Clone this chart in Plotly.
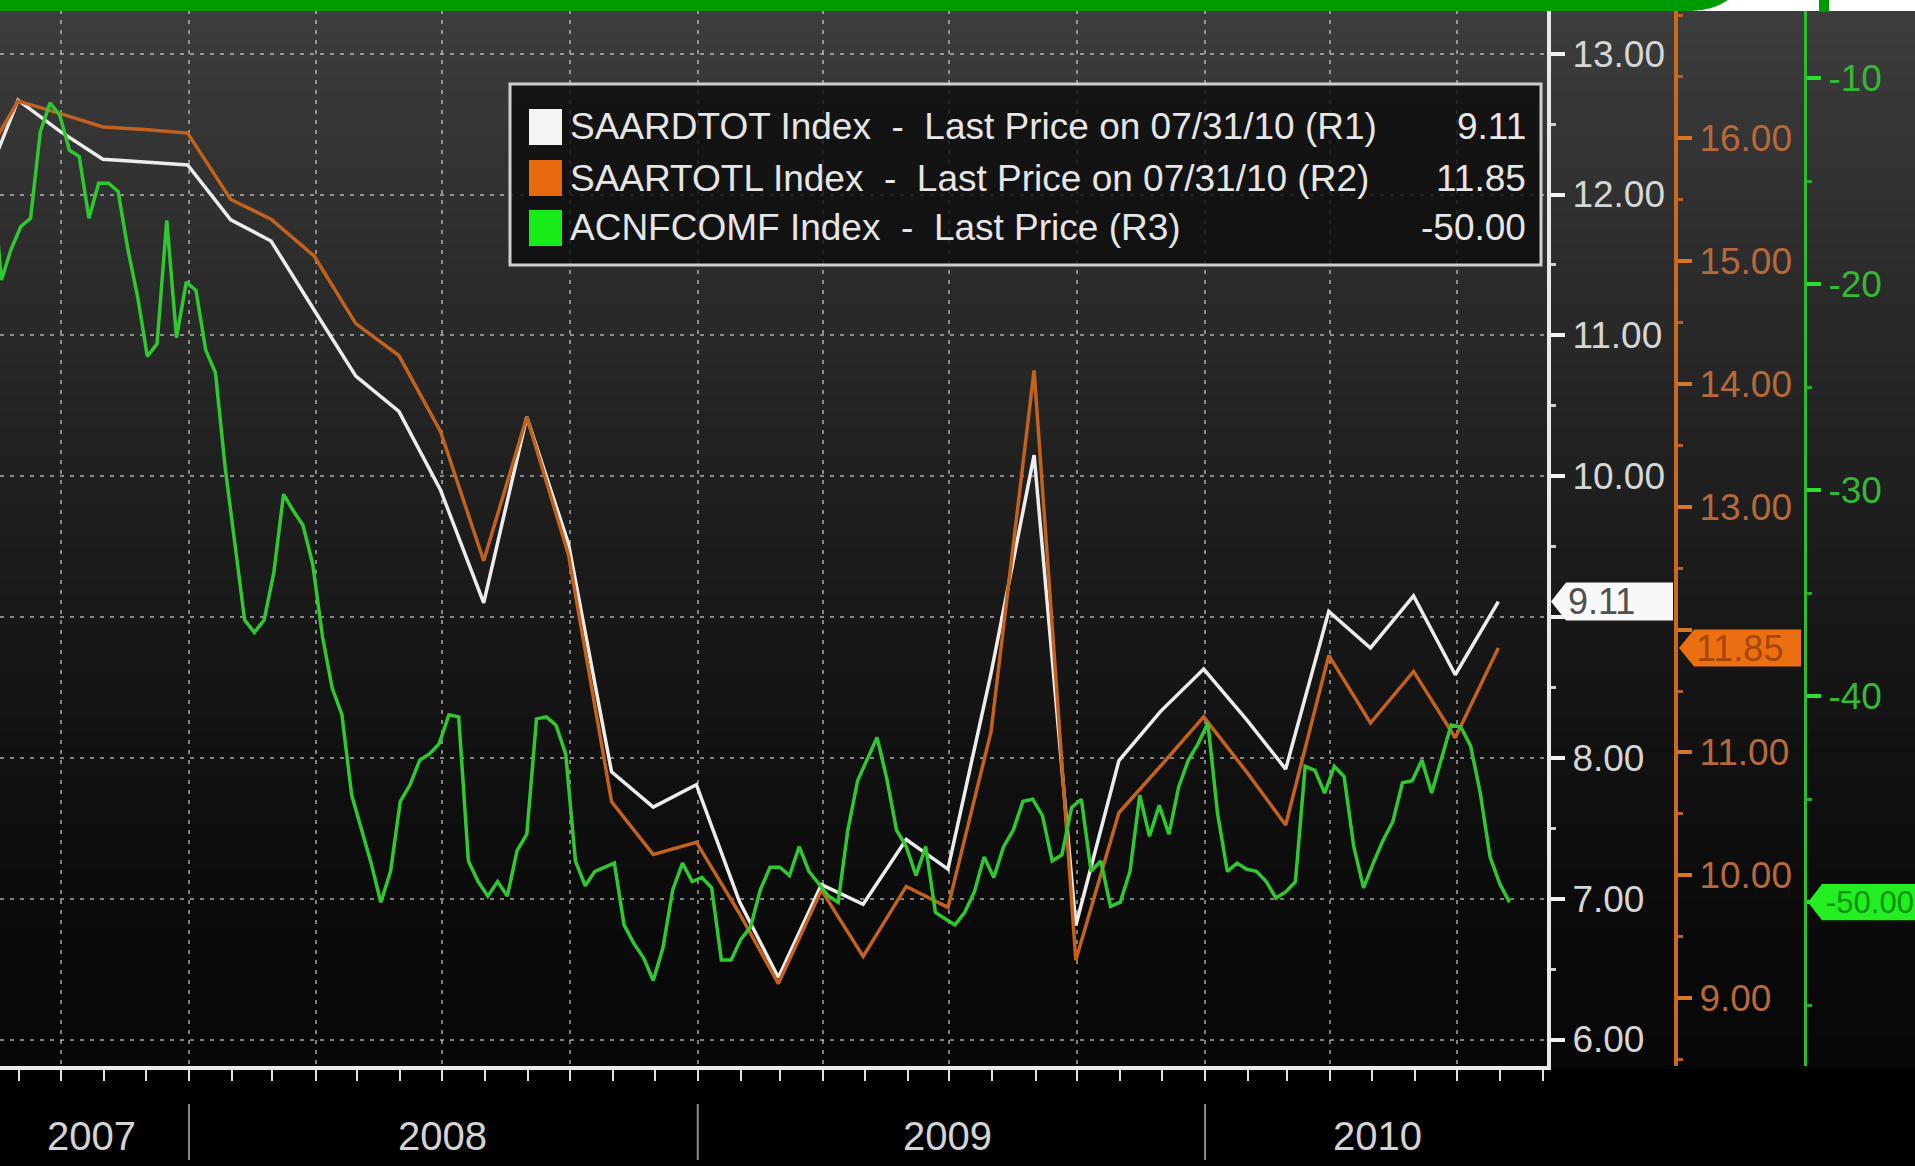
import plotly.graph_objects as go
import pandas as pd

W, H = 1915, 1166

# ---------------- data ----------------
# Monthly (month-end) SAAR series, Jul 2007 .. Jul 2010
month_ends = pd.date_range("2007-07-31", periods=37, freq=pd.offsets.MonthEnd())
saardtot = [11.90, 12.67, 12.45, 12.25, 12.23, 12.21,
            11.82, 11.67, 11.18, 10.71, 10.46, 9.90, 9.10, 10.42, 9.52, 7.90, 7.65, 7.81,
            6.98, 6.44, 7.10, 6.96, 7.42, 7.21, 8.60, 10.15, 6.81, 7.98, 8.33, 8.63,
            8.27, 7.92, 9.04, 8.78, 9.15, 8.59, 9.11]
saartotl = [15.70, 16.30, 16.20, 16.09, 16.07, 16.04,
            15.50, 15.34, 15.04, 14.49, 14.23, 13.61, 12.56, 13.73, 12.61, 10.60, 10.17, 10.27,
            9.69, 9.12, 9.88, 9.34, 9.91, 9.74, 11.17, 14.11, 9.31, 10.51, 10.89, 11.29,
            10.84, 10.41, 11.79, 11.24, 11.66, 11.12, 11.85]

# Weekly consumer comfort index, 2007-08-05 .. 2010-08-08
acnfcomf = [-13.5, -14.4,
            -19.8, -18.3, -17.2, -16.8, -12.6, -11.2, -11.8, -13.5, -13.8, -16.8,
            -15.1, -15.1, -15.5, -18.3, -20.6, -23.5, -22.9, -16.9, -22.6, -19.9,
            -20.3, -23.2, -24.3, -28.9, -32.6, -36.3, -36.9, -36.3, -34.0, -30.2,
            -31.0, -31.7, -33.6, -37.1, -39.6, -40.9, -44.8, -46.5, -48.1, -50.0,
            -48.5, -45.1, -44.3, -43.1, -42.8, -42.3, -40.9, -41.0, -48.0, -49.0,
            -49.7, -49.0, -49.7, -47.5, -46.7, -41.1, -41.0, -41.4, -42.8, -48.0,
            -49.2, -48.5, -48.3, -48.1, -51.1, -52.0, -52.7, -53.8, -52.2, -49.4,
            -48.1, -49.0, -48.8, -49.3, -52.8, -52.8, -51.8, -51.2, -49.4, -48.3,
            -48.3, -48.7, -47.3, -48.5, -49.1, -49.7, -50.0, -46.5, -44.1, -43.0,
            -42.0, -44.0, -46.5, -47.3, -48.7, -47.3, -50.5, -50.8, -51.1, -50.5,
            -49.5, -47.8, -48.8, -47.3, -46.5, -45.1, -45.0, -45.8, -48.0, -47.7,
            -45.4, -45.0, -48.5, -48.0, -50.2, -50.0, -48.5, -44.8, -46.8, -45.3,
            -46.7, -44.4, -43.1, -42.3, -41.3, -45.7, -48.5, -48.1, -48.4, -48.5,
            -49.0, -49.8, -49.5, -49.0, -43.4, -43.6, -44.7, -43.4, -43.9, -47.3,
            -49.3, -48.1, -47.0, -46.1, -44.2, -44.1, -43.1, -44.7, -43.0, -41.4,
            -41.5, -42.4, -44.7, -47.8, -49.1, -50.0]
weeks = pd.date_range("2007-08-05", periods=len(acnfcomf), freq="7D")

r1_ticks = [6, 7, 8, 9, 10, 11, 12, 13]
r1_text = ["6.00", "7.00", "8.00", "", "10.00", "11.00", "12.00", "13.00"]   # 9.00 hidden by flag
r2_ticks = [9, 10, 11, 12, 13, 14, 15, 16]
r2_text = ["9.00", "10.00", "11.00", "", "13.00", "14.00", "15.00", "16.00"]  # 12.00 hidden by flag
r3_ticks = [-50, -40, -30, -20, -10]
r3_text = ["", "-40", "-30", "-20", "-10"]                                    # -50 hidden by flag
year_labels = ["2007", "2008", "2009", "2010"]
year_label_pos = ["2007-10-23", "2008-07-01", "2009-06-30", "2010-05-05"]
year_breaks = ["2008-01-01", "2009-01-01", "2010-01-01"]

legend_names = ["SAARDTOT Index  -  Last Price on 07/31/10 (R1)",
                "SAARTOTL Index  -  Last Price on 07/31/10 (R2)",
                "ACNFCOMF Index  -  Last Price (R3)"]
last_values = [saardtot[-1], saartotl[-1], acnfcomf[-1]]
last_texts = ["9.11", "11.85", "-50.00"]

# ---------------- style ----------------
FONT = "Liberation Sans Narrow, Liberation Sans, Arial, sans-serif"
C_WHITE = "#ececec"
C_ORANGE = "#c2621e"
C_GREEN = "#30c830"
GRID = "rgba(225,225,225,0.55)"


def px(x):
    return x / W


def py(y):
    return 1 - y / H


fig = go.Figure()
fig.add_trace(go.Scatter(x=month_ends, y=saardtot, mode="lines", yaxis="y",
                         line=dict(color=C_WHITE, width=3.5), name="SAARDTOT"))
fig.add_trace(go.Scatter(x=month_ends, y=saartotl, mode="lines", yaxis="y2",
                         line=dict(color=C_ORANGE, width=3.5), name="SAARTOTL"))
fig.add_trace(go.Scatter(x=weeks, y=acnfcomf, mode="lines", yaxis="y3",
                         line=dict(color=C_GREEN, width=3.5), name="ACNFCOMF"))

shapes = []
# background gradient bands
NB = 70
top, bot = 0, 1068
for i in range(NB):
    y0 = top + (bot - top) * i / NB
    y1 = top + (bot - top) * (i + 1) / NB + 1
    t = (i + 0.5) / NB
    v = int(round(7 + 55 * (1 - t) ** 1.35))
    shapes.append(dict(type="rect", xref="paper", yref="paper", x0=0, x1=1,
                       y0=py(y1), y1=py(y0), fillcolor=f"rgb({v},{v},{v})",
                       line=dict(width=0), layer="below"))

# year separators under the axis
for d in year_breaks:
    shapes.append(dict(type="line", xref="x", yref="paper", x0=d, x1=d,
                       y0=py(1160), y1=py(1104), line=dict(color="#8a8a8a", width=2)))

# legend box
shapes.append(dict(type="rect", xref="paper", yref="paper", x0=px(510), x1=px(1541),
                   y0=py(265), y1=py(84), fillcolor="rgba(12,12,12,0.82)",
                   line=dict(color="#cfcfcf", width=3), layer="above"))
sw_cols = ["#f4f4f4", "#e8680e", "#18ec18"]
rows = [127, 178, 228]
for c, ry in zip(sw_cols, rows):
    shapes.append(dict(type="rect", xref="paper", yref="paper", x0=px(529), x1=px(562),
                       y0=py(ry + 18), y1=py(ry - 18), fillcolor=c, line=dict(width=0), layer="above"))

# last value flags


def flag(xref_y, tip_x, left_x, right_x, val, half, fill):
    path = (f"M {px(tip_x)},{val} L {px(left_x)},{val + half} L {px(right_x)},{val + half} "
            f"L {px(right_x)},{val - half} L {px(left_x)},{val - half} Z")
    return dict(type="path", xref="paper", yref=xref_y, path=path, fillcolor=fill,
                line=dict(width=0), layer="above")


shapes.append(flag("y", 1551, 1566, 1673, last_values[0], 0.135, "#f8f8f8"))
shapes.append(flag("y2", 1679, 1694, 1801, last_values[1], 0.15, "#ec7012"))
shapes.append(flag("y3", 1808, 1822, 1930, last_values[2], 0.88, "#22ee22"))

# top browser strip
shapes.append(dict(type="rect", xref="paper", yref="paper", x0=px(1690), x1=1,
                   y0=py(11), y1=1, fillcolor="#ffffff", line=dict(width=0), layer="above"))
shapes.append(dict(type="path", xref="paper", yref="paper",
                   path=f"M 0,1 L {px(1728)},1 Q {px(1712)},{py(11)} {px(1690)},{py(11)} L 0,{py(11)} Z",
                   fillcolor="#009900", line=dict(width=0), layer="above"))
shapes.append(dict(type="rect", xref="paper", yref="paper", x0=px(1819), x1=px(1829),
                   y0=py(12), y1=1, fillcolor="#009900", line=dict(width=0), layer="above"))

annotations = []
for name, ry in zip(legend_names, rows):
    annotations.append(dict(xref="paper", yref="paper", x=px(568), y=py(ry), text=name,
                            xanchor="left", yanchor="middle", showarrow=False,
                            font=dict(family=FONT, size=37, color="#e6e6e6")))
for t, ry in zip(last_texts, rows):
    annotations.append(dict(xref="paper", yref="paper", x=px(1528), y=py(ry), text=t,
                            xanchor="right", yanchor="middle", showarrow=False,
                            font=dict(family=FONT, size=37, color="#e6e6e6")))
for lab, pos in zip(year_labels, year_label_pos):
    annotations.append(dict(xref="x", yref="paper", x=pos, y=py(1136), text=lab,
                            xanchor="center", yanchor="middle", showarrow=False,
                            font=dict(family=FONT, size=40, color="#d4d4d4")))
annotations.append(dict(xref="paper", yref="y", x=px(1566), y=last_values[0], text=last_texts[0],
                        xanchor="left", yanchor="middle", showarrow=False,
                        font=dict(family=FONT, size=36, color="#505050")))
annotations.append(dict(xref="paper", yref="y2", x=px(1694), y=last_values[1], text=last_texts[1],
                        xanchor="left", yanchor="middle", showarrow=False,
                        font=dict(family=FONT, size=36, color="#a8460a")))
annotations.append(dict(xref="paper", yref="y3", x=px(1824), y=last_values[2], text=last_texts[2],
                        xanchor="left", yanchor="middle", showarrow=False,
                        font=dict(family=FONT, size=31, color="#0c920c")))

ydom = [py(1066), 1.0]
fig.update_layout(
    width=W, height=H, margin=dict(l=0, r=0, t=0, b=0, pad=0),
    paper_bgcolor="#000000", plot_bgcolor="rgba(0,0,0,0)",
    showlegend=False, shapes=shapes, annotations=annotations,
    xaxis=dict(domain=[0, px(1547)], type="date", range=["2007-08-18", "2010-09-04"],
               showgrid=True, gridcolor=GRID, gridwidth=2, griddash="4px,6px",
               dtick="M3", tick0="2007-01-01", ticks="outside", ticklen=11, tickwidth=2,
               tickcolor="#e0e0e0", showticklabels=False, showline=True,
               linecolor="#e8e8e8", linewidth=4, zeroline=False, fixedrange=True,
               minor=dict(dtick="M1", tick0="2007-01-01", ticks="outside", ticklen=11,
                          tickwidth=2, tickcolor="#e0e0e0", showgrid=False)),
    yaxis=dict(domain=ydom, range=[5.812, 13.381], side="right", anchor="x",
               tickmode="array", tickvals=r1_ticks, ticktext=r1_text,
               showgrid=True, gridcolor=GRID, gridwidth=2, griddash="4px,6px",
               showline=True, linecolor="#e8e8e8", linewidth=4, zeroline=False,
               ticks="outside", ticklen=14, tickwidth=4, tickcolor="#f2f2f2",
               tickfont=dict(family=FONT, size=37, color="#d6d6d6"),
               minor=dict(tickmode="linear", tick0=0, dtick=0.5, ticks="outside", ticklen=5,
                          tickwidth=3, tickcolor="#d0d0d0", showgrid=False)),
    yaxis2=dict(domain=ydom, range=[8.449, 17.123], overlaying="y", side="right",
                anchor="free", position=px(1676),
                tickmode="array", tickvals=r2_ticks, ticktext=r2_text,
                showgrid=False, showline=True, linecolor="#c86a22", linewidth=4, zeroline=False,
                ticks="outside", ticklen=14, tickwidth=4, tickcolor="#d87628",
                tickfont=dict(family=FONT, size=37, color="#b8693a"),
                minor=dict(tickmode="linear", tick0=0, dtick=0.5, ticks="outside", ticklen=5,
                           tickwidth=3, tickcolor="#b86028", showgrid=False)),
    yaxis3=dict(domain=ydom, range=[-57.95, -6.204], overlaying="y", side="right",
                anchor="free", position=px(1805),
                tickmode="array", tickvals=r3_ticks, ticktext=r3_text,
                showgrid=False, showline=True, linecolor="#28c028", linewidth=3, zeroline=False,
                ticks="outside", ticklen=14, tickwidth=4, tickcolor="#2ee02e",
                tickfont=dict(family=FONT, size=37, color="#35b835"),
                minor=dict(tickmode="linear", tick0=0, dtick=5, ticks="outside", ticklen=5,
                           tickwidth=3, tickcolor="#28a828", showgrid=False)),
)

fig.write_html("out.html", config={"displayModeBar": False},
               post_script="document.body.style.margin='0';document.body.style.overflow='hidden';")
